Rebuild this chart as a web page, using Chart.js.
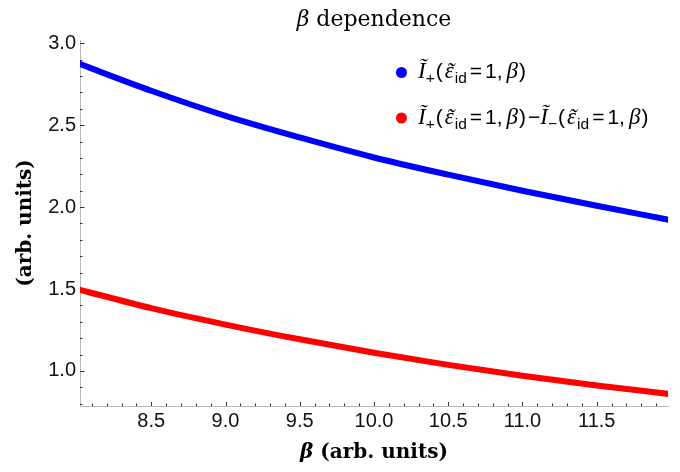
<!DOCTYPE html>
<html>
<head>
<meta charset="utf-8">
<script src="https://cdn.jsdelivr.net/npm/chart.js@4.4.1/dist/chart.umd.min.js"></script>
<style>
  html, body { margin: 0; padding: 0; background: #fff; }
</style>
</head>
<body>
<canvas id="myChart" width="680" height="472"></canvas>
<script>
// values
const beta = [8.0, 8.5, 9.0, 9.5, 10.0, 10.5, 11.0, 11.5, 12.0];
const iPlus = [2.88, 2.71, 2.557, 2.425, 2.303, 2.198, 2.10, 2.008, 1.92];
const iDiff = [1.50, 1.383, 1.283, 1.193, 1.111, 1.037, 0.971, 0.911, 0.858];

const xMajor = [8.5, 9.0, 9.5, 10.0, 10.5, 11.0, 11.5];
const yMajor = [1.0, 1.5, 2.0, 2.5, 3.0];

const blue = "#0000ff";
const red = "#ff0000";

function minorTicks(from, to) {
  let out = [];
  for (let i = Math.round(from * 10); i <= Math.round(to * 10); i++) {
    out.push(i / 10);
  }
  return out;
}
const xMinor = minorTicks(8.1, 11.9);
const yMinor = minorTicks(0.8, 3.0);

const serifIt = "italic 23px 'Liberation Serif'";
const sans = "21px 'Liberation Sans'";
const sub = "15.5px 'Liberation Sans'";

// [text, font, dy, gap before, tilde over it]
function funcParts(sign) {
  return [
    ["\u0128", serifIt, 0, 0],
    [sign, sub, 5, 0],
    ["(", sans, 0, 1],
    ["\u03b5", serifIt, 0, 2, true],
    ["id", sub, 5, 1],
    ["=", sans, 0, 3],
    ["1", sans, 0, 3],
    [",", sans, 0, 0],
    ["\u03b2", serifIt, 0, 4],
    [")", sans, 0, 1],
  ];
}
const legendLines = [
  { color: blue, parts: funcParts("+") },
  { color: red, parts: funcParts("+").concat([["\u2212", sans, 0, 2]]).concat(funcParts("\u2212")) },
];

function richWidth(ctx, parts) {
  let w = 0;
  parts.forEach(p => {
    ctx.font = p[1];
    w += (p[3] || 0) + ctx.measureText(p[0]).width;
  });
  return w;
}
function drawRich(ctx, x, y, parts) {
  let cx = x;
  parts.forEach(p => {
    ctx.font = p[1];
    cx += p[3] || 0;
    const w = ctx.measureText(p[0]).width;
    ctx.fillText(p[0], cx, y + (p[2] || 0));
    if (p[4]) {
      const tw = ctx.measureText("\u02dc").width;
      ctx.fillText("\u02dc", cx + w / 2 - tw / 2 + 1, y + (p[2] || 0) + 1);
    }
    cx += w;
  });
}

const ticksPlugin = {
  id: "mmaTicks",
  beforeDatasetsDraw(chart) {
    const ctx = chart.ctx;
    const xs = chart.scales.x, ys = chart.scales.y;
    const a = chart.chartArea;
    ctx.save();
    ctx.strokeStyle = "#333";
    ctx.lineWidth = 1;
    ctx.beginPath();
    xMinor.forEach(v => {
      const px = Math.round(xs.getPixelForValue(v)) + 0.5;
      const len = xMajor.some(m => Math.abs(m - v) < 1e-6) ? 4 : 2.5;
      ctx.moveTo(px, a.bottom);
      ctx.lineTo(px, a.bottom - len);
    });
    yMinor.forEach(v => {
      const py = Math.round(ys.getPixelForValue(v)) + 0.5;
      const len = yMajor.some(m => Math.abs(m - v) < 1e-6) ? 4.5 : 2.5;
      ctx.moveTo(a.left, py);
      ctx.lineTo(a.left + len, py);
    });
    ctx.stroke();
    ctx.restore();
  },
  afterDraw(chart) {
    const ctx = chart.ctx;
    const a = chart.chartArea;
    ctx.save();
    ctx.fillStyle = "#000";
    ctx.textBaseline = "alphabetic";

    // title
    const title = [["\u03b2", "italic 22px 'DejaVu Serif'", 0, 0], [" dependence", "22px 'DejaVu Serif'", 0, 0]];
    const tw = richWidth(ctx, title);
    drawRich(ctx, (a.left + a.right) / 2 - tw / 2, 26, title);

    // x axis title
    const xt = [["\u03b2", "italic bold 20px 'DejaVu Serif'", 0, 0], [" (arb. units)", "bold 20px 'DejaVu Serif'", 0, 0]];
    const xw = richWidth(ctx, xt);
    drawRich(ctx, (a.left + a.right) / 2 - xw / 2, 458, xt);

    // legend
    legendLines.forEach((line, i) => {
      const y = 78 + i * 45.5;
      ctx.fillStyle = line.color;
      ctx.beginPath();
      ctx.arc(401.5, y - 5.5, 5.5, 0, Math.PI * 2);
      ctx.fill();
      ctx.fillStyle = "#000";
      drawRich(ctx, 418, y, line.parts);
    });
    ctx.restore();
  },
};

const ctx = document.getElementById("myChart");
const myChart = new Chart(ctx, {
  type: "line",
  data: {
    datasets: [
      {
        label: "I+",
        data: beta.map((b, i) => ({ x: b, y: iPlus[i] })),
        borderColor: blue,
        backgroundColor: blue,
        borderWidth: 6,
        pointRadius: 0,
        cubicInterpolationMode: "monotone",
        clip: 0,
      },
      {
        label: "I+ - I-",
        data: beta.map((b, i) => ({ x: b, y: iDiff[i] })),
        borderColor: red,
        backgroundColor: red,
        borderWidth: 6,
        pointRadius: 0,
        cubicInterpolationMode: "monotone",
        clip: 0,
      },
    ],
  },
  options: {
    responsive: false,
    animation: false,
    devicePixelRatio: 1,
    layout: { padding: { left: 0, top: 40, right: 12, bottom: 0 } },
    plugins: {
      legend: { display: false },
      title: { display: false },
      tooltip: { enabled: false },
    },
    scales: {
      x: {
        type: "linear",
        min: 8.02,
        max: 11.98,
        afterBuildTicks: s => { s.ticks = xMajor.map(v => ({ value: v })); },
        afterFit: s => { s.height = 66; },
        grid: { display: false, drawTicks: false },
        border: { display: true, color: "#b8b8b8", width: 1 },
        ticks: {
          color: "#111",
          font: { family: "'Liberation Sans'", size: 20 },
          padding: 3,
          maxRotation: 0,
          autoSkip: false,
          callback: v => v.toFixed(1),
        },
      },
      y: {
        type: "linear",
        min: 0.786,
        max: 3.02,
        afterBuildTicks: s => { s.ticks = yMajor.map(v => ({ value: v })); },
        afterFit: s => { s.width = 80; },
        grid: { display: false, drawTicks: false },
        border: { display: true, color: "#b8b8b8", width: 1 },
        ticks: {
          color: "#111",
          font: { family: "'Liberation Sans'", size: 20 },
          padding: 4,
          autoSkip: false,
          callback: v => v.toFixed(1),
        },
        title: {
          display: true,
          text: "(arb. units)",
          color: "#000",
          font: { family: "'DejaVu Serif'", size: 20, weight: "bold" },
          padding: { top: 14, bottom: 0 },
        },
      },
    },
  },
  plugins: [ticksPlugin],
});
</script>
</body>
</html>
